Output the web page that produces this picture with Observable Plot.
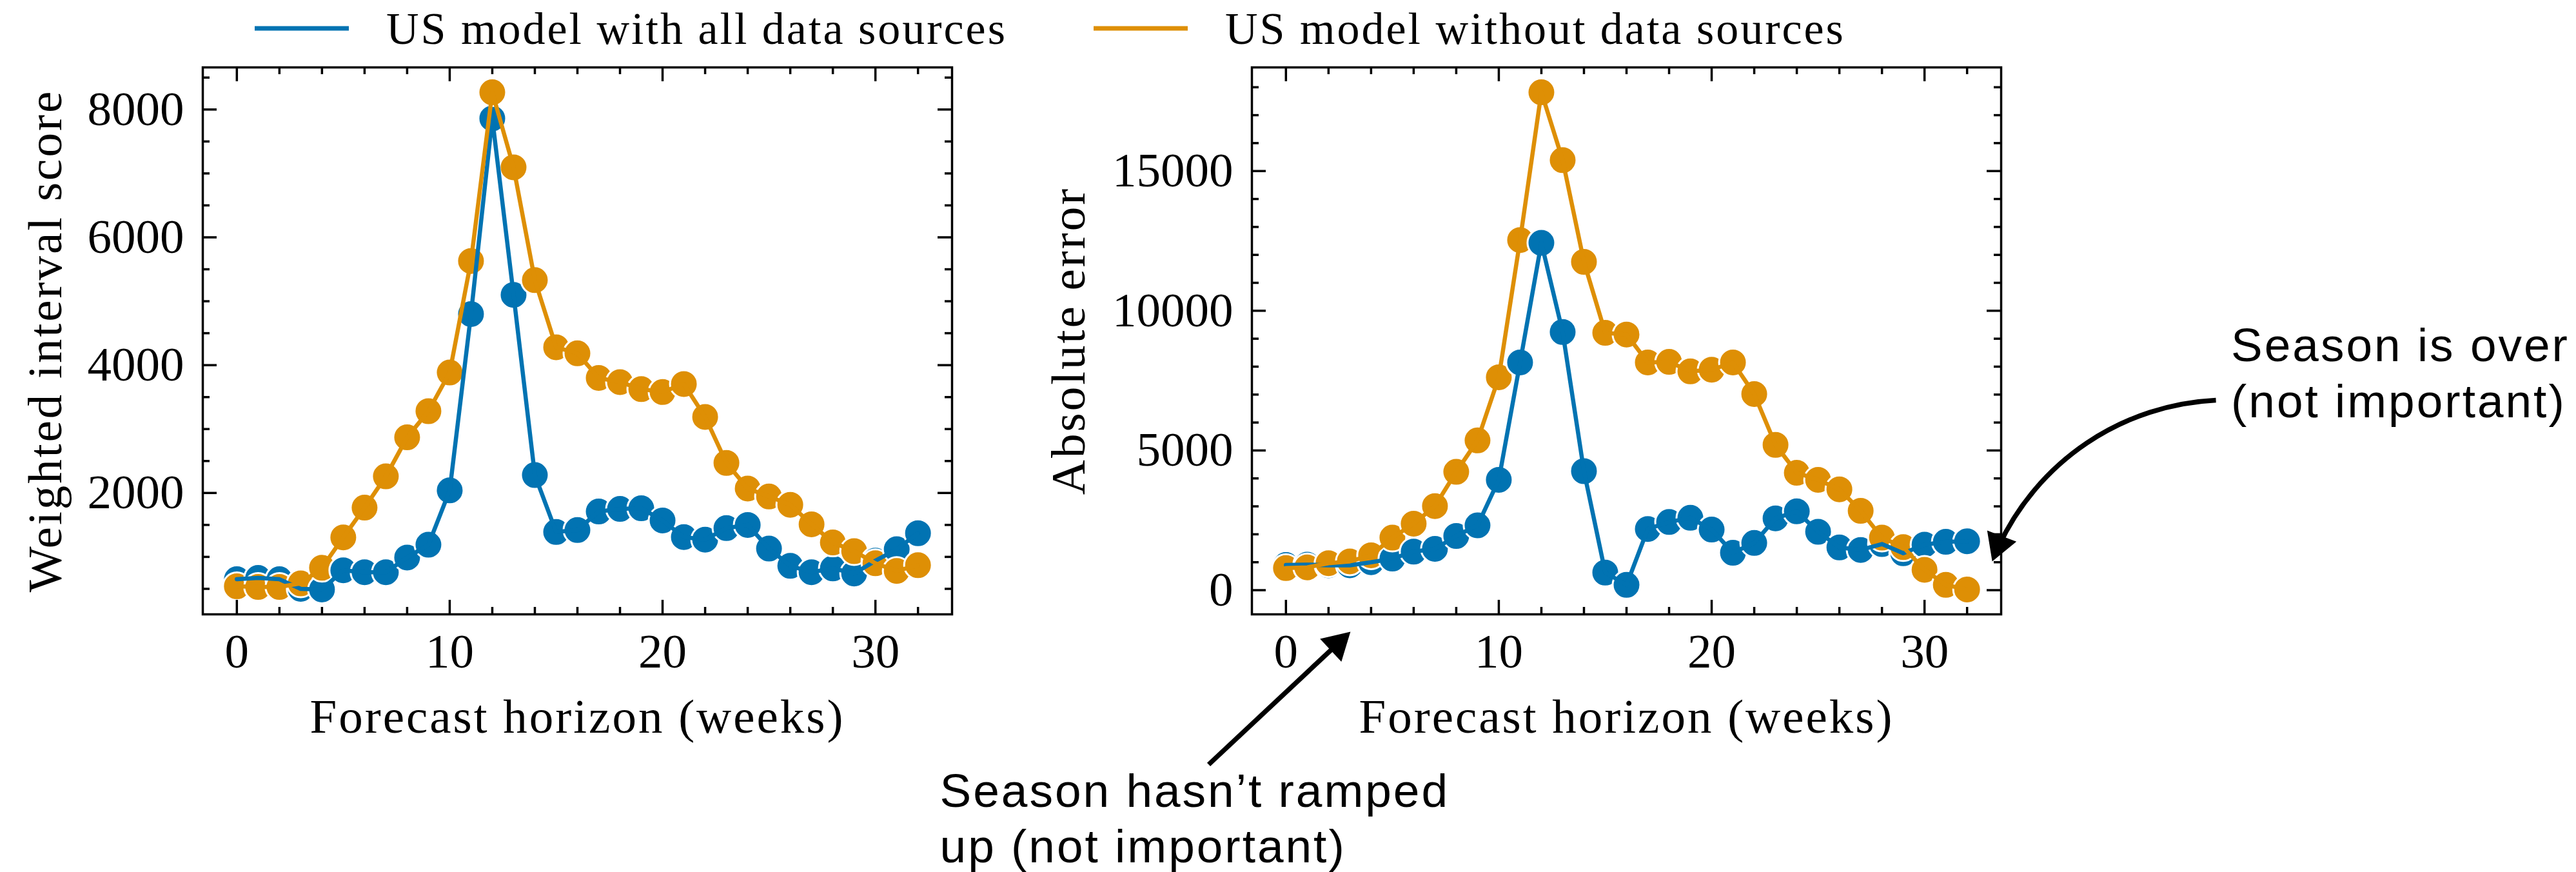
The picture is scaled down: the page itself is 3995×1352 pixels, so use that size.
<!DOCTYPE html>
<html>
<head>
<meta charset="utf-8">
<script src="https://cdn.jsdelivr.net/npm/d3@7"></script>
<script src="https://cdn.jsdelivr.net/npm/@observablehq/plot@0.6"></script>
<style>
  html, body { margin: 0; padding: 0; background: #fff; overflow: hidden; }
  #wrap { position: relative; width: 3995px; height: 1352px; background: #fff; overflow: hidden; }
  #legend { position: absolute; left: 0; top: 0; width: 3995px; height: 90px; }
</style>
</head>
<body>
<div id="wrap"><div id="legend"></div></div>
<script>
// ---------------- data ----------------
const horizon = [0,1,2,3,4,5,6,7,8,9,10,11,12,13,14,15,16,17,18,19,20,21,22,23,24,25,26,27,28,29,30,31,32];

const seriesNames = ["US model with all data sources", "US model without data sources"];
const seriesColors = ["#0173B2", "#DE8F05"];

// Weighted interval score
const wisAll = [650, 670, 650, 500, 490, 790, 760, 760, 990, 1190, 2040, 4800, 7860, 5100, 2280, 1390, 1420,
                1710, 1750, 1760, 1570, 1310, 1270, 1450, 1500, 1130, 860, 760, 820, 740, 940, 1120, 1370];
const wisWithout = [540, 530, 530, 585, 830, 1305, 1770, 2260, 2870, 3280, 3885, 5630, 8270, 7095, 5330, 4280, 4185,
                    3800, 3735, 3625, 3580, 3705, 3190, 2470, 2070, 1945, 1815, 1510, 1225, 1090, 900, 780, 870];

// Absolute error
const aeAll = [900, 915, 890, 890, 1000, 1130, 1380, 1480, 1940, 2320, 3950, 8150, 12430, 9240, 4260, 630, 190,
               2190, 2440, 2590, 2170, 1340, 1690, 2570, 2820, 2090, 1530, 1440, 1650, 1320, 1630, 1730, 1750];
const aeWithout = [790, 815, 965, 1030, 1250, 1880, 2380, 3010, 4235, 5360, 7620, 12530, 17820, 15390, 11750, 9210, 9150,
                   8150, 8170, 7830, 7890, 8150, 7020, 5200, 4200, 3950, 3610, 2840, 1880, 1540, 730, 190, 25];

// tick values
const xMajorTicks = [0, 10, 20, 30];
const xMinorTicks = [2, 4, 6, 8, 12, 14, 16, 18, 22, 24, 26, 28, 32];
const wisMajorTicks = [2000, 4000, 6000, 8000];
const wisMinorTicks = [500, 1000, 1500, 2500, 3000, 3500, 4500, 5000, 5500, 6500, 7000, 7500, 8500];
const aeMajorTicks = [0, 5000, 10000, 15000];
const aeMinorTicks = [1000, 2000, 3000, 4000, 6000, 7000, 8000, 9000, 11000, 12000, 13000, 14000, 16000, 17000, 18000];

// labels
const xLabel = "Forecast horizon (weeks)";
const wisLabel = "Weighted interval score";
const aeLabel = "Absolute error";

// annotations (in data units of the right panel)
const annotationText = ["Season is over\n(not important)", "Season hasn’t ramped\nup (not important)"];
const annotationX = [44.4, -16.26];
const annotationY = [6180, -9750];
const arrowStartX = [43.69, -3.63];
const arrowStartY = [6800, -6240];
const arrowEndX = [33.18, 3.03];
const arrowEndY = [1030, -1490];

// ---------------- helpers ----------------
function padded(values) {
  const [a, b] = d3.extent(values);
  const p = (b - a) * 0.05;
  return [a - p, b + p];
}

const FW = 1162, FH = 848;
const H = 1262, MT = 14, MB = 400;

function panel(o) {
  const rows = [];
  horizon.forEach((h, i) => {
    rows.push({h, v: o.all[i], s: seriesNames[0]});
    rows.push({h, v: o.without[i], s: seriesNames[1]});
  });
  const tk = {stroke: "black", strokeWidth: 3.5};
  const marks = [
    Plot.dot(rows, {x: "h", y: "v", fill: "s", stroke: "white", strokeWidth: 3, r: 21.5}),
    Plot.line(rows, {x: "h", y: "v", stroke: "s", z: "s", strokeWidth: 6.5}),
    Plot.tickX(xMajorTicks, {x: d => d, ...tk, insetTop: FH - 22}),
    Plot.tickX(xMajorTicks, {x: d => d, ...tk, insetBottom: FH - 22}),
    Plot.tickX(xMinorTicks, {x: d => d, ...tk, insetTop: FH - 11}),
    Plot.tickX(xMinorTicks, {x: d => d, ...tk, insetBottom: FH - 11}),
    Plot.tickY(o.major, {y: d => d, ...tk, insetRight: FW - 22}),
    Plot.tickY(o.major, {y: d => d, ...tk, insetLeft: FW - 22}),
    Plot.tickY(o.minor, {y: d => d, ...tk, insetRight: FW - 11}),
    Plot.tickY(o.minor, {y: d => d, ...tk, insetLeft: FW - 11}),
    Plot.frame({stroke: "black", strokeWidth: 3.5}),
    Plot.axisX(xMajorTicks, {tickSize: 0, tickPadding: 29, tickFormat: d3.format("d"), label: null, fontSize: 75}),
    Plot.axisY(o.major, {tickSize: 0, tickPadding: 29, tickFormat: d3.format("d"), label: null, fontSize: 75}),
    Plot.text([xLabel], {text: d => d, frameAnchor: "bottom", textAnchor: "middle", dy: 183, lineAnchor: "bottom", fontSize: 75}),
    Plot.text([o.yLabel], {text: d => d, frameAnchor: "left", textAnchor: "middle", dx: o.yLabelDx, rotate: -90, lineAnchor: "bottom", fontSize: 75}),
    ...(o.extra || [])
  ];
  const svg = Plot.plot({
    width: o.width, height: H,
    marginTop: MT, marginBottom: MB, marginLeft: o.marginLeft, marginRight: o.width - o.marginLeft - FW,
    x: {domain: padded(horizon)},
    y: {domain: padded([...o.all, ...o.without])},
    color: {domain: seriesNames, range: seriesColors},
    style: {fontFamily: "'Liberation Serif', serif", fontSize: "75px", background: "transparent", color: "black", overflow: "visible"},
    marks
  });
  // letter spacing for the label / annotation text marks (not the tick labels)
  svg.querySelectorAll('g[aria-label="text"] text').forEach(t => {
    const sans = (t.getAttribute("font-family") || "").includes("Sans") ||
                 (t.parentNode.getAttribute("font-family") || "").includes("Sans");
    t.style.letterSpacing = sans ? "3px" : "3px";
  });
  svg.style.position = "absolute";
  svg.style.left = o.left + "px";
  svg.style.top = "90px";
  return svg;
}

// ---------------- annotations ----------------
const notes = annotationText.map((text, i) => ({text, x: annotationX[i], y: annotationY[i]}));
const arrows = arrowStartX.map((x1, i) => ({x1, y1: arrowStartY[i], x2: arrowEndX[i], y2: arrowEndY[i]}));

const annotationMarks = [
  Plot.text(notes, {x: "x", y: "y", text: "text", textAnchor: "start", lineAnchor: "bottom", lineHeight: 1.19,
                    fontFamily: "'Liberation Sans', Arial, sans-serif", fontSize: 73, fill: "black"}),
  Plot.arrow([arrows[0]], {x1: "x1", y1: "y1", x2: "x2", y2: "y2", bend: -33, headLength: 0, insetEnd: 25,
                           stroke: "black", strokeWidth: 7.5, strokeLinecap: "butt"}),
  Plot.arrow([arrows[1]], {x1: "x1", y1: "y1", x2: "x2", y2: "y2", bend: 0, headLength: 0, insetEnd: 25,
                           stroke: "black", strokeWidth: 7.5, strokeLinecap: "butt"}),
  Plot.dot([arrows[0]], {x: "x2", y: "y2", symbol: "triangle", r: 18, fill: "black", stroke: "none", rotate: 200.7, dx: 9.9, dy: -26.2}),
  Plot.dot([arrows[1]], {x: "x2", y: "y2", symbol: "triangle", r: 18, fill: "black", stroke: "none", rotate: 46.9, dx: -20.4, dy: 19.1})
];

// ---------------- render ----------------
const wrap = document.getElementById("wrap");
wrap.appendChild(panel({all: wisAll, without: wisWithout, major: wisMajorTicks, minor: wisMinorTicks,
  yLabel: wisLabel, yLabelDx: -220, left: 0, width: 1600, marginLeft: 314}));
wrap.appendChild(panel({all: aeAll, without: aeWithout, major: aeMajorTicks, minor: aeMinorTicks,
  yLabel: aeLabel, yLabelDx: -260, left: 1400, width: 2595, marginLeft: 541, extra: annotationMarks}));

// legend
const legend = d3.select("#legend").append("svg").attr("width", 3995).attr("height", 90);
const legendX = [395, 1696];
seriesNames.forEach((name, i) => {
  const g = legend.append("g").attr("transform", `translate(${legendX[i]},0)`);
  g.append("line").attr("x1", 0).attr("x2", 146).attr("y1", 44).attr("y2", 44)
    .attr("stroke", seriesColors[i]).attr("stroke-width", 7);
  g.append("text").attr("x", 204).attr("y", 68).text(name)
    .attr("font-family", "'Liberation Serif', serif").attr("font-size", 70).attr("letter-spacing", "3px");
});
</script>
</body>
</html>
